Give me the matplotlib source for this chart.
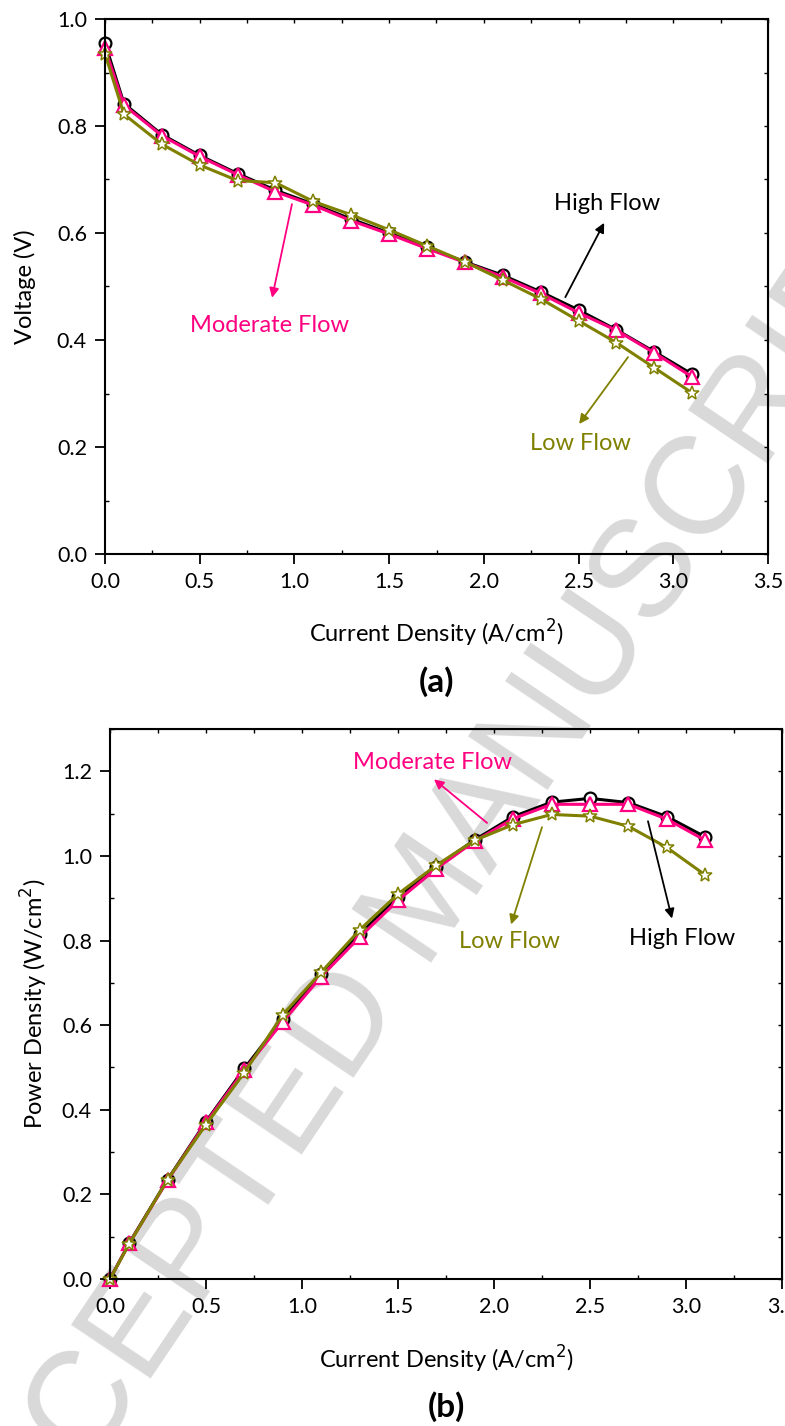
import numpy as np
import matplotlib
matplotlib.use('Agg')
import matplotlib.pyplot as plt
from matplotlib.ticker import MultipleLocator, FormatStrFormatter

plt.rcParams['font.family'] = ['Lato', 'DejaVu Sans']

# ============================================
# DATA
# ============================================
current = [0, 0.1, 0.3, 0.5, 0.7, 0.9, 1.1, 1.3, 1.5, 1.7, 1.9, 2.1, 2.3, 2.5, 2.7, 2.9, 3.1]

v_high = [0.955, 0.842, 0.784, 0.745, 0.711, 0.680, 0.654, 0.626, 0.600, 0.573,
          0.546, 0.521, 0.490, 0.456, 0.419, 0.378, 0.336]
v_mod = [0.945, 0.839, 0.782, 0.743, 0.709, 0.677, 0.652, 0.623, 0.598, 0.571,
         0.545, 0.518, 0.487, 0.451, 0.418, 0.376, 0.331]
v_low = [0.935, 0.822, 0.766, 0.727, 0.698, 0.694, 0.659, 0.634, 0.606, 0.576,
         0.546, 0.512, 0.477, 0.436, 0.395, 0.348, 0.301]

p_high = [0, 0.085, 0.235, 0.372, 0.498, 0.614, 0.720, 0.815, 0.902, 0.975,
          1.038, 1.093, 1.127, 1.136, 1.126, 1.093, 1.045]
p_mod = [0, 0.084, 0.233, 0.370, 0.494, 0.608, 0.715, 0.808, 0.895, 0.970,
         1.035, 1.088, 1.122, 1.122, 1.122, 1.087, 1.037]
p_low = [0, 0.083, 0.235, 0.365, 0.488, 0.625, 0.725, 0.825, 0.910, 0.978,
         1.037, 1.074, 1.098, 1.094, 1.070, 1.020, 0.955]

C_HIGH = 'black'
C_MOD = '#ff0080'
C_LOW = '#808000'

W, H = 785, 1426
fig = plt.figure(figsize=(W / 100, H / 100), dpi=100)

# watermark behind everything
fig.text(430 / W, 1 - 900 / H, 'ACCEPTED MANUSCRIPT', rotation=56,
         fontsize=100, color='#d9d9d9', ha='center', va='center',
         rotation_mode='anchor', family='Liberation Sans', zorder=-1)


def px_axes(l, r, t, b):
    return [l / W, 1 - b / H, (r - l) / W, (b - t) / H]


def style_axes(ax, ymajor):
    for s in ax.spines.values():
        s.set_linewidth(1.5)
    ax.set_facecolor('none')
    ax.xaxis.set_major_locator(MultipleLocator(0.5))
    ax.xaxis.set_minor_locator(MultipleLocator(0.25))
    ax.yaxis.set_major_locator(MultipleLocator(ymajor))
    ax.yaxis.set_minor_locator(MultipleLocator(ymajor / 2))
    ax.tick_params(which='major', direction='out', length=7, width=1.3,
                   labelsize=15.5, pad=6)
    ax.tick_params(which='minor', direction='in', length=3, width=1.0)
    ax.yaxis.set_major_formatter(FormatStrFormatter('%.1f'))
    ax.xaxis.set_major_formatter(FormatStrFormatter('%.1f'))
    # mirrored ticks on top / right
    axt = ax.secondary_xaxis('top')
    axt.xaxis.set_major_locator(MultipleLocator(0.5))
    axt.xaxis.set_minor_locator(MultipleLocator(0.25))
    axt.tick_params(which='both', direction='in', length=3, width=1.0, labeltop=False)
    axr = ax.secondary_yaxis('right')
    axr.yaxis.set_major_locator(MultipleLocator(ymajor))
    axr.yaxis.set_minor_locator(MultipleLocator(ymajor / 2))
    axr.tick_params(which='both', direction='in', length=3, width=1.0, labelright=False)


def draw_series(ax, y_h, y_m, y_l):
    ax.plot(current, y_h, color=C_HIGH, lw=2.2, marker='o', ms=8.5,
            mfc='white', mec=C_HIGH, mew=1.6, clip_on=False)
    ax.plot(current, y_m, color=C_MOD, lw=2.2, marker='^', ms=9.5,
            mfc='white', mec=C_MOD, mew=1.6, clip_on=False)
    ax.plot(current, y_l, color=C_LOW, lw=2.2, marker='*', ms=10,
            mfc='white', mec=C_LOW, mew=1.1, clip_on=False)


def arrow(ax, tail, head, color):
    ax.annotate('', xy=head, xytext=tail,
                arrowprops=dict(arrowstyle='-|>', color=color, lw=1.3,
                                mutation_scale=14, shrinkA=0, shrinkB=0))


# ============================================
# (a) Voltage
# ============================================
ax1 = fig.add_axes(px_axes(105, 768, 19, 554))
draw_series(ax1, v_high, v_mod, v_low)
ax1.set_xlim(0, 3.5)
ax1.set_ylim(0, 1.0)
style_axes(ax1, 0.2)
ax1.set_ylabel('Voltage (V)', fontsize=17, va='center')
ax1.yaxis.set_label_coords(-0.121, 0.5)
ax1.set_xlabel('Current Density (A/cm$^{2}$)', fontsize=17, va='center')
ax1.xaxis.set_label_coords(0.5, -0.148)

ax1.text(2.65, 0.656, 'High Flow', color=C_HIGH, fontsize=17, ha='center', va='center')
arrow(ax1, (2.43, 0.480), (2.635, 0.619), C_HIGH)
ax1.text(0.871, 0.428, 'Moderate Flow', color=C_MOD, fontsize=17, ha='center', va='center')
arrow(ax1, (0.987, 0.654), (0.882, 0.479), C_MOD)
ax1.text(2.508, 0.207, 'Low Flow', color=C_LOW, fontsize=17, ha='center', va='center')
arrow(ax1, (2.761, 0.368), (2.503, 0.243), C_LOW)

fig.text(436 / W, 1 - 682 / H, '(a)', fontsize=24, fontweight='bold',
         ha='center', va='center')

# ============================================
# (b) Power density
# ============================================
ax2 = fig.add_axes(px_axes(110, 782, 729, 1279))
draw_series(ax2, p_high, p_mod, p_low)
ax2.set_xlim(0, 3.5)
ax2.set_ylim(0, 1.3)
style_axes(ax2, 0.2)
ax2.set_ylabel('Power Density (W/cm$^{2}$)', fontsize=17, va='center')
ax2.yaxis.set_label_coords(-0.113, 0.5)
ax2.set_xlabel('Current Density (A/cm$^{2}$)', fontsize=17, va='center')
ax2.xaxis.set_label_coords(0.5, -0.147)

ax2.text(1.682, 1.221, 'Moderate Flow', color=C_MOD, fontsize=17, ha='center', va='center')
arrow(ax2, (1.964, 1.078), (1.6875, 1.181), C_MOD)
ax2.text(2.083, 0.798, 'Low Flow', color=C_LOW, fontsize=17, ha='center', va='center')
arrow(ax2, (2.25, 1.068), (2.089, 0.838), C_LOW)
ax2.text(2.979, 0.805, 'High Flow', color=C_HIGH, fontsize=17, ha='center', va='center')
arrow(ax2, (2.802, 1.082), (2.927, 0.852), C_HIGH)

fig.text(446 / W, 1 - 1407 / H, '(b)', fontsize=24, fontweight='bold',
         ha='center', va='center')

fig.savefig('out.png', dpi=100)
plt.close(fig)
